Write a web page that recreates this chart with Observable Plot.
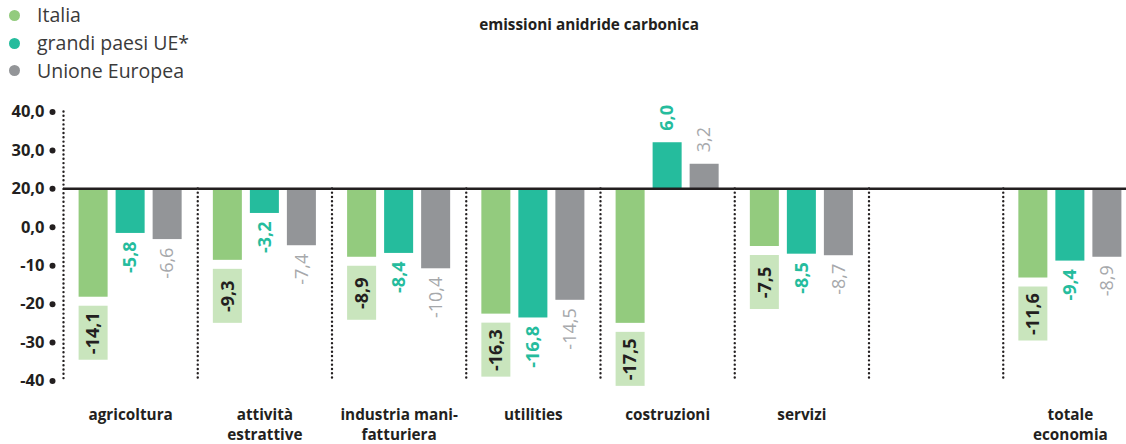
<!DOCTYPE html>
<html>
<head>
<meta charset="utf-8">
<script src="https://cdn.jsdelivr.net/npm/d3@7"></script>
<script src="https://cdn.jsdelivr.net/npm/@observablehq/plot@0.6"></script>
<style>
  html, body { margin: 0; padding: 0; background: #fff; }
  #wrap { position: relative; width: 1126px; height: 444px; font-family: "Open Sans", Lato, sans-serif; }
  #legend { position: absolute; left: 0; top: 0; }
  .item { position: absolute; left: 0; white-space: nowrap; font-size: 19.5px; color: #3a3a3a; line-height: 24px; }
  .item span.sw { position: absolute; left: 8.5px; width: 11px; height: 11px; border-radius: 50%; }
  .item span.lb { position: absolute; left: 37px; top: 0; }
  #title { position: absolute; left: 0; width: 1178px; top: 14px; text-align: center; font-size: 15.3px; font-weight: bold; color: #231f20; }
  #chart { position: absolute; left: 0; top: 0; }
</style>
</head>
<body>
<div id="wrap">
  <div id="chart"></div>
  <div id="title">emissioni anidride carbonica</div>
  <div id="legend"></div>
</div>
<script>
// ---- data ----
const categories = ["agricoltura", "attività estrattive", "industria manifatturiera", "utilities", "costruzioni", "servizi", "_vuoto", "totale economia"];
const categoryLabels = ["agricoltura", "attività\nestrattive", "industria mani-\nfatturiera", "utilities", "costruzioni", "servizi", "", "totale\neconomia"];
const series = ["Italia", "grandi paesi UE*", "Unione Europea"];
const italia = [-14.1, -9.3, -8.9, -16.3, -17.5, -7.5, null, -11.6];
const grandiPaesi = [-5.8, -3.2, -8.4, -16.8, 6.0, -8.5, null, -9.4];
const unioneEuropea = [-6.6, -7.4, -10.4, -14.5, 3.2, -8.7, null, -8.9];
const yTicks = [10, 5, 0, -5, -10, -15, -20, -25];
const yTickLabels = ["40,0", "30,0", "20,0", "0,0", "-10", "-20", "-30", "-40"];
const colors = ["#93cb7e", "#25bc9d", "#939598"];
const labelColors = ["#231f20", "#25bc9d", "#a6a8ab"];

// ---- table ----
const valuesBySeries = [italia, grandiPaesi, unioneEuropea];
const rows = [];
series.forEach((s, si) => {
  categories.forEach((c, ci) => {
    const v = valuesBySeries[si][ci];
    if (v !== null) rows.push({cat: c, series: s, value: v});
  });
});
const fmt = (v) => v.toFixed(1).replace(".", ",");
const catRows = categories.map((c, i) => ({cat: c, label: categoryLabels[i]})).filter(d => d.label !== "");

// ---- layout ----
const W = 1126, H = 444;
const frameLeft = 63, frameRight = 1137;
const yTop = 111.5, yBottom = 380.5;
const yDomain = [-25, 10];
const k = (yBottom - yTop) / (yDomain[1] - yDomain[0]); // px per unit
const facetW = (frameRight - frameLeft) / categories.length;
const pIn = 8 / 37, pOut = 0.4215;
const step = facetW / (series.length - pIn + 2 * pOut);
const centerOffset = pOut * step + (1 - pIn) * step / 2;

const FONT = "'Open Sans', Lato, sans-serif";
const dotted = {stroke: "#231f20", strokeWidth: 2.4, strokeDasharray: "0,4.3", strokeLinecap: "round"};

const first = categories[0];
const italiaRows = rows.filter(d => d.series === series[0]);
const gpRows = rows.filter(d => d.series === series[1]);
const ueRows = rows.filter(d => d.series === series[2]);

const valueText = (data, color, weight, neg) => Plot.text(data.filter(d => neg ? d.value < 0 : d.value >= 0), {
  fx: "cat", x: "series", y: "value", text: d => fmt(d.value),
  rotate: -90, textAnchor: neg ? "end" : "start", dy: neg ? 8 : -12,
  fill: color, fontWeight: weight, fontSize: 18
});

const chart = Plot.plot({
  width: W, height: H,
  marginTop: yTop, marginBottom: H - yBottom, marginLeft: frameLeft, marginRight: 0,
  style: {fontFamily: FONT, background: "transparent", overflow: "visible"},
  fx: {domain: categories, padding: 0, round: false, range: [frameLeft, frameRight], axis: null, label: null},
  x: {domain: series, paddingInner: pIn, paddingOuter: pOut, round: false, axis: null, label: null},
  y: {domain: yDomain, range: [yBottom, yTop], axis: null, label: null},
  color: {domain: series, range: colors},
  marks: [
    // dotted separators and left axis
    Plot.ruleX(categories.slice(1), {fx: d => d, x: () => series[0], y1: 0, y2: -25, dx: -centerOffset, ...dotted}),
    Plot.ruleX([first], {fx: d => d, x: () => series[0], y1: 10, y2: -25, dx: -centerOffset, ...dotted}),
    // bars
    Plot.barY(rows, {fx: "cat", x: "series", y: "value", fill: "series"}),
    // baseline
    Plot.ruleY(categories, {fx: d => d, y: () => 0, stroke: "#231f20", strokeWidth: 2.5}),
    // Italia label boxes
    Plot.barY(italiaRows, {fx: "cat", x: "series", y1: d => d.value - 9 / k, y2: d => d.value - 63 / k, fill: "#c9e5bd"}),
    Plot.text(italiaRows, {fx: "cat", x: "series", y: "value", text: d => fmt(d.value), rotate: -90, dy: 36, fill: labelColors[0], fontWeight: "bold", fontSize: 18}),
    valueText(gpRows, labelColors[1], "bold", true),
    valueText(gpRows, labelColors[1], "bold", false),
    valueText(ueRows, labelColors[2], "normal", true),
    valueText(ueRows, labelColors[2], "normal", false),
    // y axis ticks (dots) and labels
    Plot.dot(yTicks, {fx: () => first, y: d => d, frameAnchor: "left", dx: -11, r: 3, fill: "#231f20"}),
    Plot.text(yTicks, {fx: () => first, y: d => d, text: (d, i) => yTickLabels[i], frameAnchor: "left", dx: -19, textAnchor: "end", fontSize: 16.5, fontWeight: "bold", fill: "#231f20"}),
    // category labels
    Plot.text(catRows, {fx: "cat", text: "label", frameAnchor: "bottom", lineAnchor: "top", dy: 24, lineHeight: 1.35, fontSize: 15.3, fontWeight: "bold", fill: "#231f20"})
  ]
});
document.getElementById("chart").appendChild(chart);

// legend
const legend = document.getElementById("legend");
const legendY = [15, 43, 70.5];
series.forEach((s, i) => {
  const it = document.createElement("div");
  it.className = "item";
  it.style.top = (legendY[i] - 12) + "px";
  it.innerHTML = `<span class="sw" style="background:${colors[i]};top:6.5px"></span><span class="lb">${s}</span>`;
  legend.appendChild(it);
});
</script>
</body>
</html>
